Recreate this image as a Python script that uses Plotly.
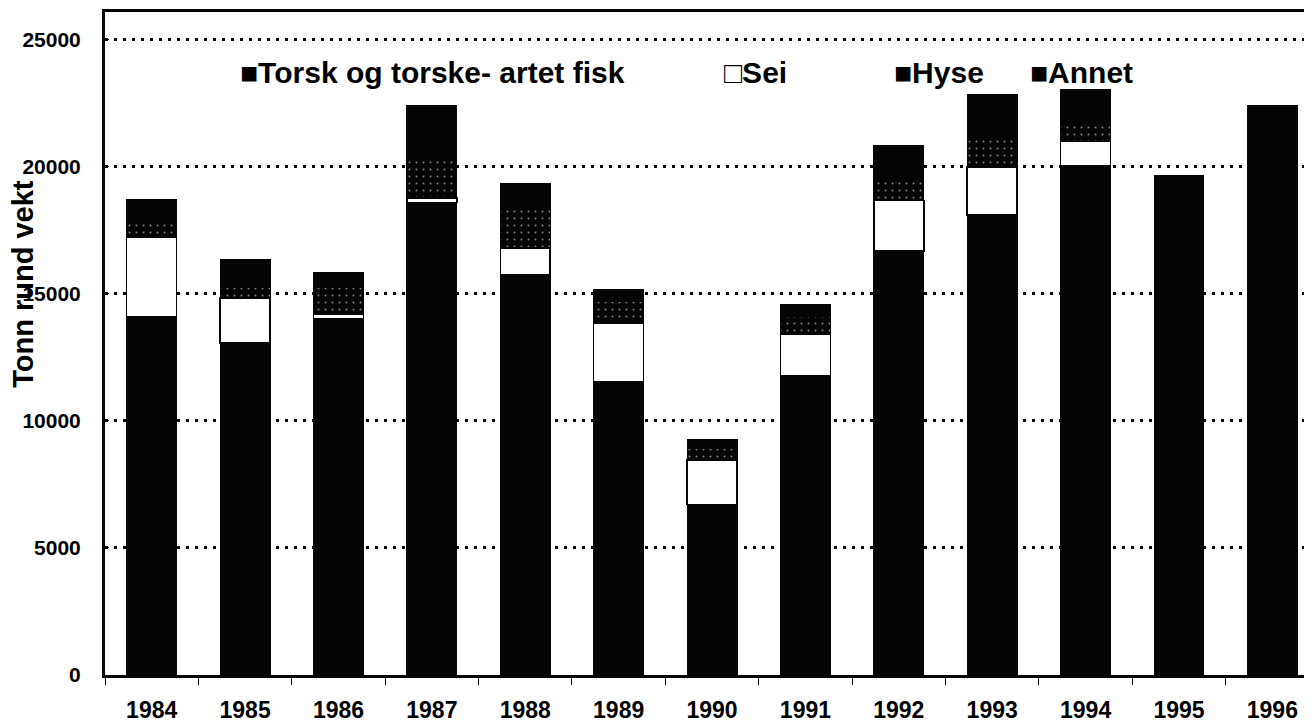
import plotly.graph_objects as go

years = ["1984", "1985", "1986", "1987", "1988", "1989", "1990",
         "1991", "1992", "1993", "1994", "1995", "1996"]
torsk = [14100, 13070, 14020, 18600, 15750, 11550, 6720, 11800, 16700, 18100, 20050, 19650, 22400]
sei = [3150, 1780, 180, 180, 1060, 2310, 1740, 1620, 1980, 1900, 950, 0, 0]
hyse = [580, 420, 1040, 1500, 1690, 860, 440, 700, 900, 1200, 700, 0, 0]
annet = [870, 1070, 590, 2120, 830, 440, 390, 470, 1250, 1650, 1350, 0, 0]
y_ticks = [0, 5000, 10000, 15000, 20000, 25000]
legend_names = ["Torsk og torske- artet fisk", "Sei", "Hyse", "Annet"]

BLACK = "#050505"
FONT = "Liberation Sans, Arial, sans-serif"

fig = go.Figure()
fig.add_bar(x=years, y=torsk, name=legend_names[0], marker=dict(color=BLACK, line=dict(color=BLACK, width=1)))
fig.add_bar(x=years, y=sei, name=legend_names[1], marker=dict(color="white", line=dict(color=BLACK, width=1.5)))
fig.add_bar(x=years, y=hyse, name=legend_names[2],
            marker=dict(color=BLACK, line=dict(color=BLACK, width=1),
                        pattern=dict(shape=".", bgcolor=BLACK, fgcolor="white", size=7, solidity=0.06)))
fig.add_bar(x=years, y=annet, name=legend_names[3], marker=dict(color=BLACK, line=dict(color=BLACK, width=1)))

fig.update_layout(
    barmode="stack",
    bargap=0.465,
    width=1312, height=724,
    margin=dict(l=97, r=0, t=4, b=57),
    paper_bgcolor="white", plot_bgcolor="white",
    showlegend=False,
    font=dict(family=FONT, color="black"),
)
fig.update_xaxes(
    type="category", range=[-0.5, 12.51], automargin=False,
    showline=True, linecolor=BLACK, linewidth=3, mirror=True,
    ticks="outside", tickson="boundaries", ticklen=7, tickcolor=BLACK, tickwidth=1,
    tickfont=dict(size=23, family=FONT, weight="bold"),
    ticklabelstandoff=12,
    showgrid=False,
)
fig.update_yaxes(
    range=[0, 26100], tickvals=y_ticks, tickformat="d", automargin=False,
    showline=True, linecolor=BLACK, linewidth=3,
    ticks="inside", ticklen=4, tickcolor=BLACK,
    tickfont=dict(size=21, family=FONT, weight="bold"),
    ticklabelstandoff=17,
    showgrid=True, gridcolor=BLACK, gridwidth=2.5, griddash="3px,6px",
    zeroline=False,
)

ann = []
leg_x = [0.1095, 0.5078, 0.6477, 0.7597]
leg_sym = ["■", "□", "■", "■"]
for name, sx, sym in zip(legend_names, leg_x, leg_sym):
    ann.append(dict(xref="paper", yref="paper", x=sx, y=0.9095, xanchor="left", yanchor="middle",
                    text=sym + name, showarrow=False,
                    font=dict(size=30, family=FONT, weight="bold", color="black")))
ann.append(dict(xref="paper", yref="paper", x=-0.0675, y=0.59, xanchor="center", yanchor="middle",
                text="Tonn rund vekt", textangle=-90, showarrow=False,
                font=dict(size=29, family=FONT, weight="bold", color="black")))
fig.update_layout(annotations=ann)

fig.write_html("out.html")
